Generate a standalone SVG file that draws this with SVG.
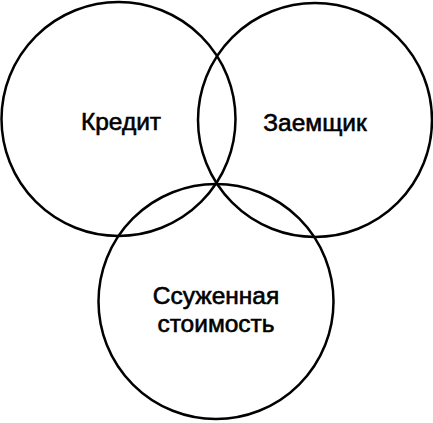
<svg xmlns="http://www.w3.org/2000/svg" width="433" height="423" viewBox="0 0 433 423">
<style>
.c{fill:none;stroke:#000;stroke-width:2.5}
.t{font-family:"Liberation Sans",Arial,sans-serif;font-size:24.5px;fill:#000;stroke:#000;stroke-width:0.6;text-anchor:middle}
</style>
<rect width="433" height="423" fill="#fff"/>
<g id="kredit"><circle class="c" cx="118.5" cy="119" r="117"/><text class="t" x="121" y="130">Кредит</text></g>
<g id="zaemshchik"><circle class="c" cx="315" cy="120" r="117"/><text class="t" x="315" y="131">Заемщик</text></g>
<g id="stoimost"><circle class="c" cx="216" cy="301.5" r="117.5"/><text class="t" x="216" y="304">Ссуженная</text><text class="t" x="216" y="332">стоимость</text></g>
<g id="connectors"></g>
</svg>
